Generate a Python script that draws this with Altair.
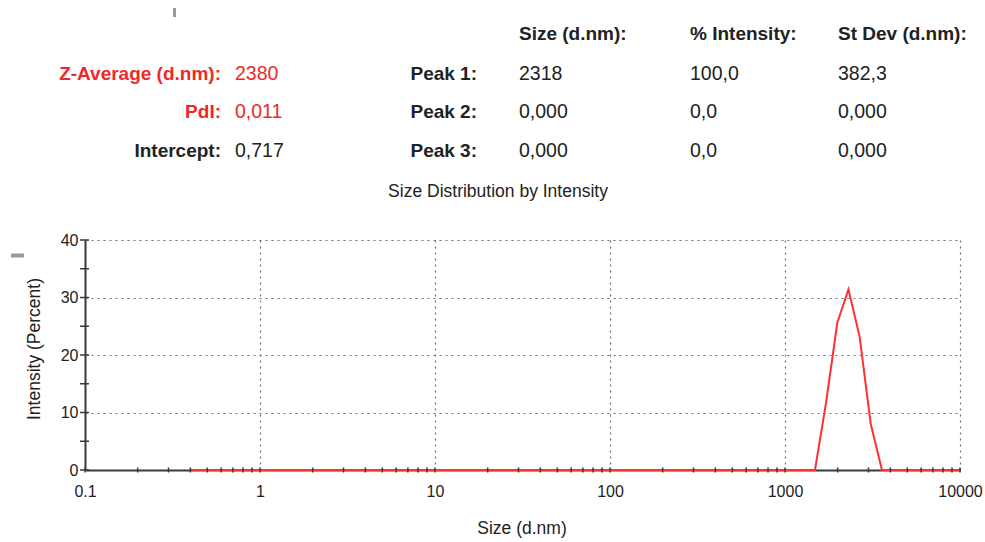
import altair as alt
import pandas as pd

# Size classes (d.nm) of the intensity distribution
sizes = [
    0.4000, 0.4632, 0.5365, 0.6213, 0.7195, 0.8332, 0.9649, 1.117, 1.294, 1.499,
    1.736, 2.010, 2.328, 2.696, 3.122, 3.615, 4.187, 4.849, 5.615, 6.503,
    7.531, 8.721, 10.10, 11.70, 13.54, 15.69, 18.17, 21.04, 24.36, 28.21,
    32.67, 37.84, 43.82, 50.75, 58.77, 68.06, 78.82, 91.28, 105.7, 122.4,
    141.8, 164.2, 190.1, 220.2, 255.0, 295.3, 342.0, 396.1, 458.7, 531.2,
    615.1, 712.4, 825.0, 955.4, 1106, 1281, 1484, 1718, 1990, 2305,
    2669, 3091, 3580, 4145, 4801, 5560, 6439, 7456, 8635, 10000,
]
# Intensity (Percent) for each size class
intensity = [
    0, 0, 0, 0, 0, 0, 0, 0, 0, 0,
    0, 0, 0, 0, 0, 0, 0, 0, 0, 0,
    0, 0, 0, 0, 0, 0, 0, 0, 0, 0,
    0, 0, 0, 0, 0, 0, 0, 0, 0, 0,
    0, 0, 0, 0, 0, 0, 0, 0, 0, 0,
    0, 0, 0, 0, 0, 0, 0, 11.8, 25.6, 31.4,
    23.2, 8.0, 0, 0, 0, 0, 0, 0, 0, 0,
]

# Summary results
summary_labels = ["Z-Average (d.nm):", "PdI:", "Intercept:"]
summary_values = ["2380", "0,011", "0,717"]
summary_highlight = [True, True, False]

# Peak table
peak_labels = ["Peak 1:", "Peak 2:", "Peak 3:"]
peak_headers = ["Size (d.nm):", "% Intensity:", "St Dev (d.nm):"]
peak_size = ["2318", "0,000", "0,000"]
peak_intensity = ["100,0", "0,0", "0,0"]
peak_stdev = ["382,3", "0,000", "0,000"]

chart_title = "Size Distribution by Intensity"
x_title = "Size (d.nm)"
y_title = "Intensity (Percent)"
x_ticks = [0.1, 1, 10, 100, 1000, 10000]
y_ticks = [0, 10, 20, 30, 40]

FONT = "Liberation Sans"
DARK = "#222222"
RED = "#f02828"
LINE_RED = "#ff3030"
AXIS = "#3a3a3a"

# plot area geometry inside the 985x542 page
LEFT, TOP, W, H = 85, 240, 875, 230

x_scale = alt.Scale(type="log", domain=[0.1, 10000], nice=False)
y_scale = alt.Scale(domain=[0, 40], nice=False)

df = pd.DataFrame({"size": sizes, "intensity": intensity})

axis_style = dict(
    grid=True, ticks=False,
    labelFont=FONT, labelFontSize=16, labelColor=DARK,
    domainColor=AXIS, domainWidth=2,
    gridColor="#707070", gridDash=[2, 4], gridWidth=1.2, gridOpacity=1,
)

line = alt.Chart(df).mark_line(color=LINE_RED, strokeWidth=2).encode(
    x=alt.X("size:Q", scale=x_scale, title=None,
            axis=alt.Axis(values=x_ticks, format="~g", labelFlush=False,
                          labelOverlap=False, labelPadding=13, **axis_style)),
    y=alt.Y("intensity:Q", scale=y_scale, title=None,
            axis=alt.Axis(values=y_ticks, labelPadding=7, **axis_style)),
)

# small cross ticks along both axes
x_minor = [k * 10 ** d for d in range(-1, 4) for k in range(1, 10)] + [10000]
y_minor = list(range(0, 45, 5))

x_tick_marks = alt.Chart(pd.DataFrame({"size": x_minor})).mark_rule(
    color=AXIS, strokeWidth=1.5
).encode(
    x=alt.X("size:Q", scale=x_scale),
    y=alt.value(H - 2.5),
    y2=alt.value(H + 2.5),
)

y_tick_marks = alt.Chart(pd.DataFrame({"intensity": y_minor})).mark_rule(
    color=AXIS, strokeWidth=1.5
).encode(
    y=alt.Y("intensity:Q", scale=y_scale),
    x=alt.value(-5),
    x2=alt.value(4),
)


def label(text, x, y, size, bold=False, color=DARK, align="left",
          baseline="alphabetic", angle=0):
    return alt.Chart(alt.Data(values=[{"t": text}])).mark_text(
        font=FONT, fontSize=size, fontWeight="bold" if bold else "normal",
        color=color, align=align, baseline=baseline, angle=angle,
    ).encode(text="t:N", x=alt.value(x - LEFT), y=alt.value(y - TOP))


texts = []
row_y = [80, 118, 157]
for lab, val, hi, yy in zip(summary_labels, summary_values, summary_highlight, row_y):
    c = RED if hi else DARK
    texts.append(label(lab, 221, yy, 19, bold=True, color=c, align="right"))
    texts.append(label(val, 235, yy, 19.5, color=c))

col_x = [519, 690, 838]
for hdr, cx in zip(peak_headers, col_x):
    texts.append(label(hdr, cx, 40, 19, bold=True))
for i, yy in enumerate(row_y):
    texts.append(label(peak_labels[i], 477, yy, 19, bold=True, align="right"))
    for col, cx in zip([peak_size, peak_intensity, peak_stdev], col_x):
        texts.append(label(col[i], cx, yy, 19.5))

texts.append(label(chart_title, 498, 197, 17.5, align="center"))
texts.append(label(x_title, 522, 534, 17.5, align="center"))
texts.append(label(y_title, 35, 349, 17.5, align="center", baseline="middle", angle=270))

# stray marker strokes
marker_v = alt.Chart(alt.Data(values=[{}])).mark_rule(color="#9a9a9a", strokeWidth=3).encode(
    x=alt.value(174.5 - LEFT), y=alt.value(8 - TOP), y2=alt.value(17 - TOP))
marker_h = alt.Chart(alt.Data(values=[{}])).mark_rule(color="#9a9a9a", strokeWidth=4).encode(
    x=alt.value(11 - LEFT), x2=alt.value(24 - LEFT), y=alt.value(255.5 - TOP))

chart = alt.layer(
    line, x_tick_marks, y_tick_marks, marker_v, marker_h, *texts
).properties(
    width=W, height=H,
    background="white",
    autosize=alt.AutoSizeParams(type="none"),
    padding={"left": LEFT, "top": TOP, "right": 985 - LEFT - W, "bottom": 542 - TOP - H},
).configure_view(
    stroke=None
)

chart.save("out.html", embed_options={"renderer": "svg", "actions": False})
